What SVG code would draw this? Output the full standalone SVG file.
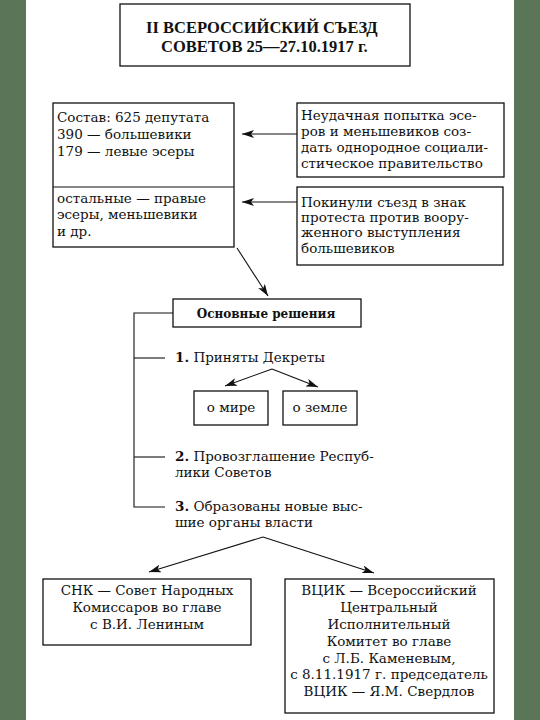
<svg xmlns="http://www.w3.org/2000/svg" width="540" height="720" viewBox="0 0 540 720">
<defs>
<style>
.b{fill:#fff;stroke:#111;stroke-width:1.3}
.t{font-family:"DejaVu Serif","Liberation Serif",serif;font-size:13.5px;fill:#111}
.c{text-anchor:middle}
.h{font-weight:bold}
.tt{font-family:"Liberation Serif","DejaVu Serif",serif;font-size:16.5px;font-weight:bold;fill:#111}
.ln{stroke:#111;stroke-width:1.1;fill:none}
</style>
<marker id="ar" viewBox="0 0 12 8" refX="12" refY="4" markerWidth="12" markerHeight="8" markerUnits="userSpaceOnUse" orient="auto">
<path d="M0,0 L12,4 L0,8 L3,4 Z" fill="#111"/>
</marker>
</defs>
<rect x="0" y="0" width="540" height="720" fill="#5a7557"/>
<rect x="26" y="0" width="488" height="720" fill="#fff"/>

<g id="title">
<rect class="b" x="120" y="4" width="290" height="62"/>
<text class="tt" x="146" y="33">II ВСЕРОССИЙСКИЙ СЪЕЗД</text>
<text class="tt" x="161" y="52">СОВЕТОВ 25—27.10.1917 г.</text>
</g>

<g id="composition">
<rect class="b" x="53" y="103" width="181" height="144"/>
<line class="ln" x1="53" y1="187" x2="234" y2="187"/>
<text class="t" x="57" y="122">Состав: 625 депутата</text>
<text class="t" x="57" y="139">390 — большевики</text>
<text class="t" x="57" y="156">179 — левые эсеры</text>
<text class="t" x="57" y="203">остальные — правые</text>
<text class="t" x="57" y="219">эсеры, меньшевики</text>
<text class="t" x="57" y="236">и др.</text>
</g>

<g id="attempt">
<rect class="b" x="297" y="103" width="207" height="74"/>
<text class="t" x="301" y="120">Неудачная попытка эсе-</text>
<text class="t" x="301" y="136">ров и меньшевиков соз-</text>
<text class="t" x="301" y="152">дать однородное социали-</text>
<text class="t" x="301" y="168">стическое правительство</text>
</g>

<g id="left">
<rect class="b" x="297" y="187" width="206" height="78"/>
<text class="t" x="301" y="207">Покинули съезд в знак</text>
<text class="t" x="301" y="222">протеста против воору-</text>
<text class="t" x="301" y="237">женного выступления</text>
<text class="t" x="301" y="253">большевиков</text>
</g>

<g id="decisions">
<rect class="b" x="173" y="299" width="188" height="28"/>
<text class="t h c" x="266" y="318" style="font-size:12px">Основные решения</text>
</g>

<g id="item1">
<text class="t" x="175" y="362"><tspan class="h">1.</tspan> Приняты Декреты</text>
</g>
<g id="peace">
<rect class="b" x="194" y="391" width="74" height="34"/>
<text class="t c" x="231" y="412">о мире</text>
</g>
<g id="land">
<rect class="b" x="283" y="391" width="74" height="34"/>
<text class="t c" x="320" y="412">о земле</text>
</g>
<g id="item2">
<text class="t" x="175" y="461"><tspan class="h">2.</tspan> Провозглашение Респуб-</text>
<text class="t" x="175" y="477">лики Советов</text>
</g>
<g id="item3">
<text class="t" x="175" y="511"><tspan class="h">3.</tspan> Образованы новые выс-</text>
<text class="t" x="175" y="527">шие органы власти</text>
</g>

<g id="snk">
<rect class="b" x="43" y="579" width="208" height="66"/>
<text class="t c" x="147" y="595">СНК — Совет Народных</text>
<text class="t c" x="147" y="612">Комиссаров во главе</text>
<text class="t c" x="147" y="629">с В.И. Лениным</text>
</g>

<g id="vtsik">
<rect class="b" x="285" y="579" width="209" height="134"/>
<text class="t c" x="389" y="595">ВЦИК — Всероссийский</text>
<text class="t c" x="389" y="612">Центральный</text>
<text class="t c" x="389" y="629">Исполнительный</text>
<text class="t c" x="389" y="646">Комитет во главе</text>
<text class="t c" x="389" y="663">с Л.Б. Каменевым,</text>
<text class="t c" x="389" y="679">с 8.11.1917 г. председатель</text>
<text class="t c" x="389" y="696">ВЦИК — Я.М. Свердлов</text>
</g>

<g id="connectors">
<line class="ln" x1="297" y1="134" x2="242" y2="134" marker-end="url(#ar)"/>
<line class="ln" x1="297" y1="202" x2="242" y2="202" marker-end="url(#ar)"/>
<line class="ln" x1="237" y1="248" x2="268" y2="296" marker-end="url(#ar)"/>
<polyline class="ln" points="173,313 134,313 134,507 165,507"/>
<line class="ln" x1="134" y1="358" x2="165" y2="358"/>
<line class="ln" x1="134" y1="457" x2="165" y2="457"/>
<line class="ln" x1="272" y1="369" x2="225" y2="386" marker-end="url(#ar)"/>
<line class="ln" x1="272" y1="369" x2="318" y2="387" marker-end="url(#ar)"/>
<line class="ln" x1="263" y1="537" x2="149" y2="572" marker-end="url(#ar)"/>
<line class="ln" x1="263" y1="537" x2="374" y2="573" marker-end="url(#ar)"/>
</g>
</svg>
